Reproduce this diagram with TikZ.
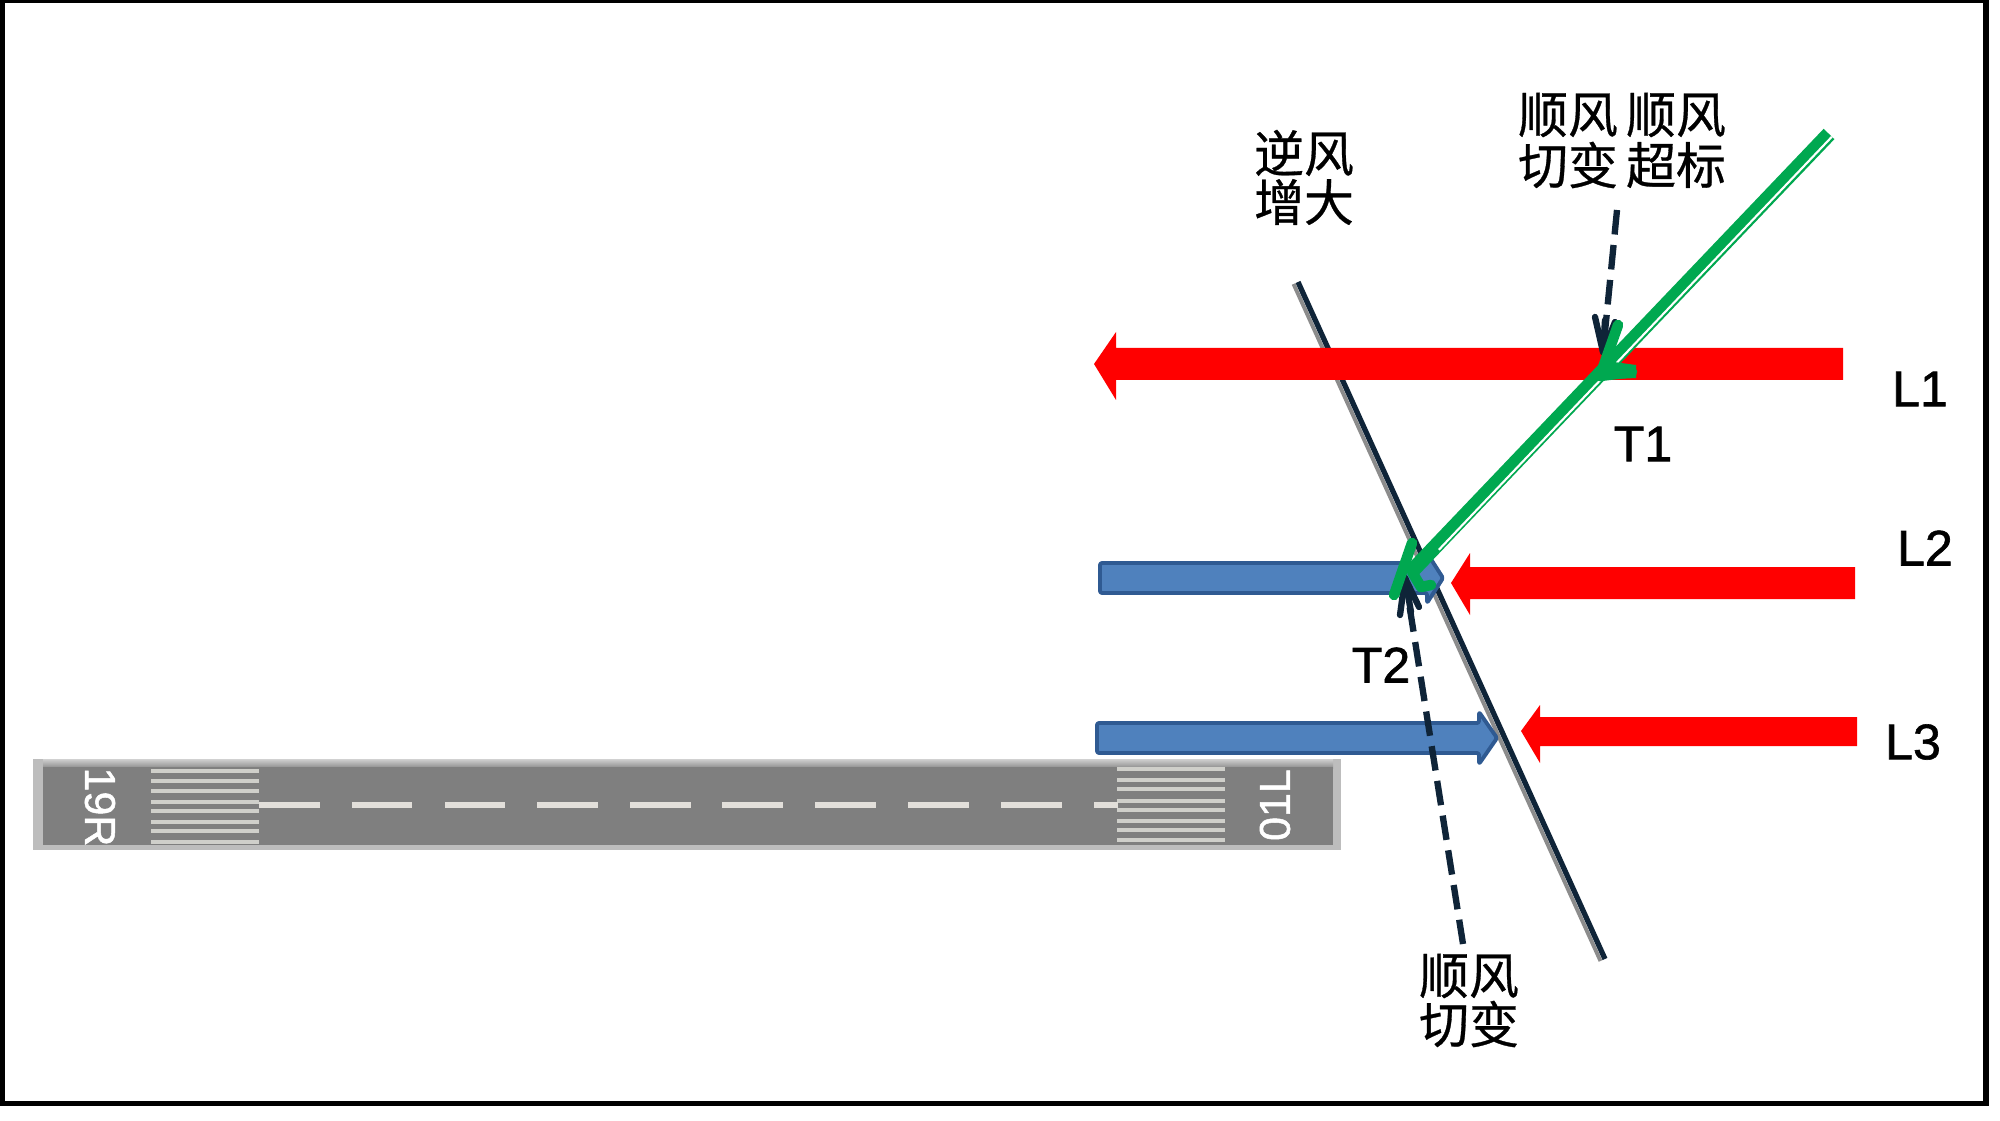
\documentclass[tikz,border=0pt]{standalone}
\usepackage{fontspec}
\setmainfont{Liberation Sans}
\newfontfamily\cjk[FakeBold=0.6]{Noto Sans CJK SC}
\newfontfamily\tagfont[FakeBold=1.2]{Liberation Sans}
\usetikzlibrary{calc}
\definecolor{arrowred}{HTML}{FF0000}
\definecolor{bluefill}{HTML}{4F81BD}
\definecolor{blueedge}{HTML}{2F5A92}
\definecolor{navyline}{HTML}{0F2438}
\definecolor{greenline}{HTML}{00A850}
\definecolor{rwgray}{HTML}{7F7F7F}
\definecolor{rwedge}{HTML}{BDBDBD}
\definecolor{rwstripe}{HTML}{CFCFCA}
\definecolor{rwdash}{HTML}{E2DFDA}
\tikzset{
  redarrow/.style={fill=arrowred,draw=none},
  bluearrow/.style={fill=bluefill,draw=blueedge,line width=2.2pt,line join=round,rounded corners=1.2pt},
  dashedarrow/.style={draw=navyline,line width=3.6pt,dash pattern=on 14pt off 6pt},
  arrowbarb/.style={draw=navyline,line width=3.6pt,line cap=round,line join=round},
  greenbarb/.style={draw=greenline,line width=6pt,line join=round,line cap=round},
  stripeL/.style={draw=rwstripe,line width=2.8pt},
  centredash/.style={draw=rwdash,line width=3pt},
  zh/.style={font=\cjk\fontsize{28.4}{28.4}\selectfont,inner sep=0pt,text=black},
  tag/.style={font=\tagfont\fontsize{28.5}{30}\selectfont,inner sep=0pt,text=black},
  rwtext/.style={font=\tagfont\fontsize{24.5}{26}\selectfont,inner sep=0pt,text=white}
}
\begin{document}
\begin{tikzpicture}[x=0.02cm,y=-0.02cm]
\useasboundingbox (0,0) rectangle (2000,1121);
\fill[white] (0,0) rectangle (2000,1121);
% frame
\fill[black] (0,0) rectangle (1989,1106);
\fill[white] (5,3) rectangle (1983,1101);
% runway
\fill[rwedge] (33,759) rectangle (1341,850);
\shade[top color=rwedge!70!white,bottom color=rwgray!90!white] (43,759) rectangle (1333,768);
\fill[rwgray] (43,767) rectangle (1333,845);
\foreach \y in {771,781,791,802,811,822,831,842}
  \draw[stripeL] (151,\y) -- (259,\y);
\foreach \y in {769,780,789,801,810,821,830,840}
  \draw[stripeL] (1117,\y) -- (1225,\y);
\foreach \a/\b in {259/320,352/412,445/505,537/598,630/691,722/783,815/876,908/969,1001/1062,1094/1118}
  \draw[centredash] (\a,805) -- (\b,805);
\node[rwtext,rotate=-90] (rwA) at (100,807) {19R};
\node[rwtext,rotate=90] (rwB) at (1275,805) {01L};
% wind shear boundary
\coordinate (bndA) at (1298,282);
\coordinate (bndB) at (1605,959);
\draw[black!45,line width=2.2pt] ($(bndA)+(-4.5,2)$) -- ($(bndB)+(-4.5,2)$);
\draw[navyline,line width=3pt] (bndA) -- (bndB);
% red arrows
\fill[redarrow] (1843,348) -- (1116,348) -- (1116,332) -- (1094,364) -- (1116,400) -- (1116,380) -- (1843,380) -- cycle;
\fill[redarrow] (1855,567) -- (1470,567) -- (1470,553) -- (1451,583) -- (1470,615) -- (1470,599) -- (1855,599) -- cycle;
\fill[redarrow] (1857,717) -- (1540,717) -- (1540,705) -- (1521,731) -- (1540,763) -- (1540,746) -- (1857,746) -- cycle;
% blue arrows
\draw[bluearrow] (1100,563) -- (1427,563) -- (1427,553) -- (1443,578) -- (1427,603) -- (1427,593) -- (1100,593) -- cycle;
\draw[bluearrow] (1097,723) -- (1479,723) -- (1479,712) -- (1497,738) -- (1479,764) -- (1479,753) -- (1097,753) -- cycle;
% dashed arrows
\coordinate (dashAs) at (1617,210);
\coordinate (dashAe) at (1603,352);
\coordinate (dashBs) at (1463,944);
\coordinate (dashBe) at (1405,578);
\draw[dashedarrow] (dashAs) -- (dashAe);
\draw[arrowbarb] (1595,317) -- (dashAe) -- (1615,322);
\draw[arrowbarb] (1605,320) -- (dashAe);
\draw[dashedarrow] (dashBs) -- (dashBe);
\draw[arrowbarb] (1400,615) -- (dashBe) -- (1419,607);
\draw[arrowbarb] (1411,612) -- (dashBe);
% green track
\coordinate (trkA) at (1829,134);
\coordinate (trkB) at (1411,572);
\coordinate (trkC) at (1436,547);
\draw[greenline,line width=8.5pt] (trkA) -- (trkB);
\draw[white,line width=1.2pt] ($(trkA)+(2.8,2.8)$) -- ($(trkC)+(2.8,2.8)$);
\coordinate (tipA) at (1600,376);
\draw[greenbarb] (1618,325) -- (tipA) -- (1632,372);
\fill[greenline] (1608,345) -- (1596,380) -- (1636,378) -- (1636,365) -- (1614,362) -- cycle;
\draw[greenbarb] (1412,543) -- (1394,595);
\draw[greenbarb] (1412,572) -- (1421,587) -- (1431,585);
% labels
\node[zh] (hwA) at (1304,153) {逆风};
\node[zh] (hwB) at (1304,202) {增大};
\node[zh] (tsA) at (1568,115) {顺风};
\node[zh] (tsB) at (1568,165) {切变};
\node[zh] (exA) at (1676,115) {顺风};
\node[zh] (exB) at (1676,165) {超标};
\node[zh] (lsA) at (1469,976) {顺风};
\node[zh] (lsB) at (1469,1024) {切变};
\node[tag] (L1) at (1920,389) {L1};
\node[tag] (L2) at (1925,548) {L2};
\node[tag] (L3) at (1913,742) {L3};
\node[tag] (T1) at (1643,444) {T1};
\node[tag] (T2) at (1381,665) {T2};
\end{tikzpicture}
\end{document}
